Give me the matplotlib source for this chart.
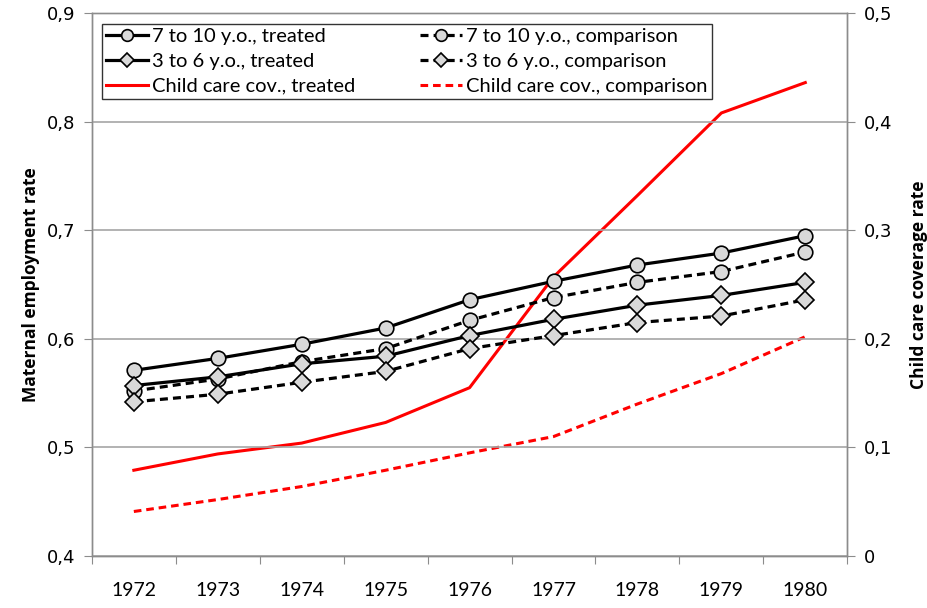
import matplotlib
matplotlib.use("Agg")
import matplotlib.pyplot as plt
import numpy as np

years = ["1972", "1973", "1974", "1975", "1976", "1977", "1978", "1979", "1980"]

old_treated = [0.571, 0.582, 0.595, 0.610, 0.636, 0.653, 0.668, 0.679, 0.695]
old_comparison = [0.552, 0.563, 0.579, 0.591, 0.617, 0.638, 0.652, 0.662, 0.680]
young_treated = [0.557, 0.565, 0.577, 0.584, 0.603, 0.618, 0.631, 0.640, 0.652]
young_comparison = [0.542, 0.549, 0.560, 0.570, 0.591, 0.603, 0.615, 0.621, 0.636]
care_treated = [0.079, 0.094, 0.104, 0.123, 0.155, 0.257, 0.332, 0.408, 0.436]
care_comparison = [0.041, 0.052, 0.064, 0.079, 0.095, 0.110, 0.140, 0.168, 0.202]

left_ticks = [0.4, 0.5, 0.6, 0.7, 0.8, 0.9]
right_ticks = [0, 0.1, 0.2, 0.3, 0.4, 0.5]

GRAY = "#8c8c8c"
FILL = "#d9d9d9"

x = np.arange(len(years))

fig = plt.figure(figsize=(9.28, 6.08), dpi=100)
ax = fig.add_axes([0.099, 0.0855, 0.814, 0.893])
ax2 = ax.twinx()

# black series drawn above the red ones
ax.set_zorder(ax2.get_zorder() + 1)
ax.patch.set_visible(False)

dash = (0, (2.5, 1.6))
circ = dict(marker="o", markersize=10.5, markerfacecolor=FILL, markeredgecolor="black", markeredgewidth=1.2)
diam = dict(marker="D", markersize=9, markerfacecolor=FILL, markeredgecolor="black", markeredgewidth=1.2)

l1, = ax.plot(x, old_treated, "-", color="black", lw=2.3, label="7 to 10 y.o., treated", **circ)
l2, = ax.plot(x, old_comparison, color="black", lw=2.3, ls=dash, label="7 to 10 y.o., comparison", **circ)
l3, = ax.plot(x, young_treated, "-", color="black", lw=2.3, label="3 to 6 y.o., treated", **diam)
l4, = ax.plot(x, young_comparison, color="black", lw=2.3, ls=dash, label="3 to 6 y.o., comparison", **diam)
l5, = ax2.plot(x, care_treated, "-", color="#ff0000", lw=2.2, label="Child care cov., treated")
l6, = ax2.plot(x, care_comparison, color="#ff0000", lw=2.2, ls=dash, label="Child care cov., comparison")

ax.set_xlim(-0.5, len(years) - 0.5)
ax.set_ylim(0.4, 0.9)
ax2.set_ylim(0, 0.5)

ax.set_yticks(left_ticks)
ax.set_yticklabels([("%.1f" % v).replace(".", ",") for v in left_ticks], family="DejaVu Sans", fontsize=13)
ax2.set_yticks(right_ticks)
ax2.set_yticklabels(["0"] + [("%.1f" % v).replace(".", ",") for v in right_ticks[1:]],
                    family="DejaVu Sans", fontsize=13)

ax.set_xticks(np.arange(len(years) + 1) - 0.5)
ax.set_xticklabels([])
ax.set_xticks(x, minor=True)
ax.set_xticklabels(years, minor=True, family="Lato", fontsize=14)
ax.tick_params(axis="x", which="major", length=6, color=GRAY, direction="out")
ax.tick_params(axis="x", which="minor", length=0, pad=19)
ax.tick_params(axis="y", length=6, color=GRAY, pad=6)
ax2.tick_params(axis="y", length=6, color=GRAY, pad=6)

ax.grid(axis="y", color="#a6a6a6", lw=1.2)
for a in (ax, ax2):
    for s in a.spines.values():
        s.set_color(GRAY)
        s.set_linewidth(1.0)
ax2.spines["top"].set_color("#a6a6a6")

ax.set_ylabel("Maternal employment rate", family="Open Sans", fontsize=12.5, fontweight="bold", labelpad=5)
ax2.set_ylabel("Child care coverage rate", family="Open Sans", fontsize=12.5, fontweight="bold", labelpad=13)

# row-wise order like the original legend
leg = ax.legend(handles=[l1, l3, l5, l2, l4, l6], ncol=2, loc="upper left",
                bbox_to_anchor=(0.013, 0.98), borderaxespad=0, frameon=True, fancybox=False,
                edgecolor="black", handlelength=2.1, handletextpad=0.2, columnspacing=3.2,
                labelspacing=0.38, borderpad=0.2, markerscale=0.8,
                prop={"family": "Lato", "size": 14.5})
leg.get_frame().set_linewidth(1.0)

fig.savefig("out.png", dpi=100)
